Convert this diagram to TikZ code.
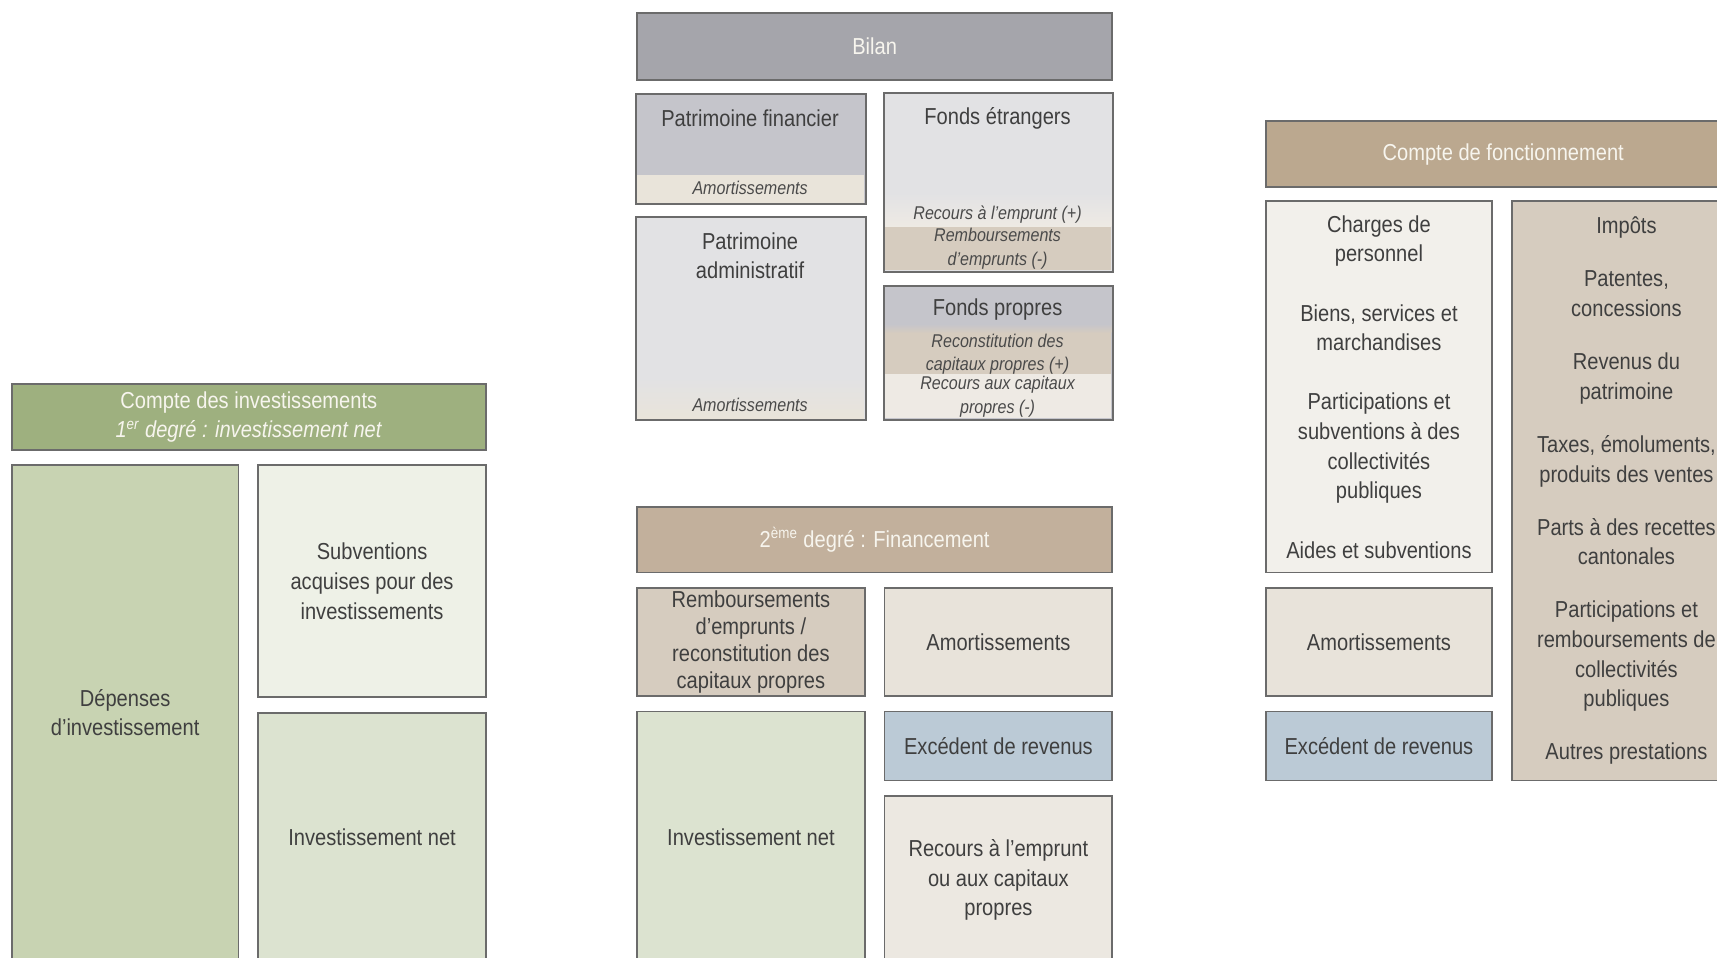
\documentclass[tikz,border=0pt]{standalone}
\usepackage{fontspec}
\setmainfont{Liberation Sans}[FakeStretch=0.87]
\usepackage{xcolor}
\usepackage{tikz}

\definecolor{framegrey}{HTML}{6B6B6B}
\definecolor{textgrey}{HTML}{3F3F3F}
\definecolor{notegrey}{HTML}{4A4A4A}
\definecolor{titletext}{HTML}{F7F5EE}
\definecolor{greenbar}{HTML}{9EB07F}
\definecolor{greendeep}{HTML}{C8D3B2}
\definecolor{greenpale}{HTML}{EEF1E7}
\definecolor{greensoft}{HTML}{DCE3D0}
\definecolor{greybar}{HTML}{A5A5AB}
\definecolor{greymid}{HTML}{C5C5CB}
\definecolor{greylight}{HTML}{E2E2E4}
\definecolor{tanbar}{HTML}{C2B09C}
\definecolor{tanbardark}{HTML}{BBA88F}
\definecolor{tanmid}{HTML}{D6CCBF}
\definecolor{tanlight}{HTML}{E8E3DA}
\definecolor{tanpale}{HTML}{ECE8E1}
\definecolor{creme}{HTML}{F2F0EB}
\definecolor{bluegrey}{HTML}{BBCAD6}
\definecolor{stripbeige}{HTML}{E9E4DA}
\definecolor{palebeige}{HTML}{EEEAE4}

\newcommand{\cellfont}{\fontsize{12}{15.4}\selectfont}
\newcommand{\stripfont}{\fontsize{9.6}{12.2}\selectfont\itshape}

\begin{document}
\begin{tikzpicture}[
    x=0.02cm, y=-0.02cm,
    cell/.style={draw=framegrey, line width=0.9pt, inner sep=0pt, anchor=north west, align=center, text=textgrey, font=\cellfont},
    titlebar/.style={cell, text=titletext},
    frame/.style={draw=framegrey, line width=0.9pt},
    boxtext/.style={inner sep=0pt, align=center, text=textgrey, font=\cellfont},
    striptext/.style={inner sep=0pt, align=center, text=notegrey, font=\stripfont}
]
\useasboundingbox (0,0) rectangle (1568,874);
\clip (0,0) rectangle (1568,874);

% Compte des investissements (left)
\node[titlebar, fill=greenbar, minimum width=8.66cm, minimum height=1.2cm] (invbar) at (10,350)
    {Compte des investissements\\ \textit{1\textsuperscript{er} degré : investissement net}};
\node[cell, fill=greendeep, minimum width=4.14cm, minimum height=9.04cm] (depenses) at (10,424) {Dépenses\\d’investissement};
\node[cell, fill=greenpale, minimum width=4.16cm, minimum height=4.24cm] (subv) at (235,424) {Subventions\\acquises pour des\\investissements};
\node[cell, fill=greensoft, minimum width=4.16cm, minimum height=4.56cm] (invnetA) at (235,650) {Investissement net};

% Bilan (middle, top)
\node[titlebar, fill=greybar, minimum width=8.68cm, minimum height=1.22cm] (bilan) at (581,11) {Bilan};

\node[cell, draw=none, fill=greymid, minimum width=4.16cm, minimum height=1.98cm] (pfin) at (581,86) {};
\fill[stripbeige] (581,160) rectangle (789,185);
\draw[frame] (pfin.north west) rectangle (pfin.south east);
\node[boxtext] (pfintitle) at (685,108) {Patrimoine financier};
\node[striptext] (pfinamort) at (685,172) {Amortissements};

\node[cell, draw=none, fill=greylight, minimum width=4.16cm, minimum height=3.68cm] (padm) at (581,198) {};
\shade[top color=greylight, bottom color=stripbeige] (581,345) rectangle (789,382);
\draw[frame] (padm.north west) rectangle (padm.south east);
\node[boxtext] (padmtitle) at (685,233.5) {Patrimoine\\administratif};
\node[striptext] (padmamort) at (685,370) {Amortissements};

\node[cell, draw=none, fill=greylight, minimum width=4.16cm, minimum height=3.24cm] (fetr) at (807,85) {};
\shade[top color=greylight, bottom color=palebeige] (807,176) rectangle (1015,207);
\fill[tanmid] (807,207) rectangle (1015,247);
\draw[frame] (fetr.north west) rectangle (fetr.south east);
\node[boxtext] (fetrtitle) at (911,108) {Fonds étrangers};
\node[striptext] (fetrplus) at (911,196) {Recours à l’emprunt (+)};
\node[striptext] (fetrminus) at (911,227) {Remboursements\\d’emprunts (-)};

\node[cell, draw=none, fill=greymid, minimum width=4.16cm, minimum height=2.42cm] (fprop) at (807,261) {};
\shade[top color=greymid, bottom color=tanmid] (807,296) rectangle (1015,304);
\fill[tanmid] (807,304) rectangle (1015,342);
\fill[palebeige] (807,342) rectangle (1015,382);
\draw[frame] (fprop.north west) rectangle (fprop.south east);
\node[boxtext] (fproptitle) at (911,283) {Fonds propres};
\node[striptext] (fpropplus) at (911,323.5) {Reconstitution des\\capitaux propres (+)};
\node[striptext] (fpropminus) at (911,362.5) {Recours aux capitaux\\propres (-)};

% 2eme degre : financement (middle, bottom)
\node[titlebar, fill=tanbar, minimum width=8.68cm, minimum height=1.2cm] (degre) at (581,462) {2\textsuperscript{ème} degré : Financement};
\node[cell, fill=tanmid, minimum width=4.16cm, minimum height=1.98cm, font=\fontsize{12}{14}\selectfont] (rembt) at (581,536)
    {Remboursements\\d’emprunts /\\reconstitution des\\capitaux propres};
\node[cell, fill=tanlight, minimum width=4.16cm, minimum height=1.98cm] (amortB) at (807,536) {Amortissements};
\node[cell, fill=greensoft, minimum width=4.16cm, minimum height=4.6cm] (invnetB) at (581,649) {Investissement net};
\node[cell, fill=bluegrey, minimum width=4.16cm, minimum height=1.26cm] (excedB) at (807,649) {Excédent de revenus};
\node[cell, fill=tanpale, minimum width=4.16cm, minimum height=3.08cm] (recours) at (807,726) {Recours à l’emprunt\\ou aux capitaux\\propres};

% Compte de fonctionnement (right)
\node[titlebar, fill=tanbardark, minimum width=8.68cm, minimum height=1.2cm] (fonct) at (1155,110) {Compte de fonctionnement};
\node[cell, fill=creme, minimum width=4.14cm, minimum height=6.78cm] (charges) at (1155,183)
    {Charges de\\personnel\\[15.4pt]Biens, services et\\marchandises\\[15.4pt]Participations et\\subventions à des\\collectivités\\publiques\\[15.4pt]Aides et subventions};
\node[cell, fill=tanlight, minimum width=4.14cm, minimum height=1.98cm] (amortC) at (1155,536) {Amortissements};
\node[cell, fill=bluegrey, minimum width=4.14cm, minimum height=1.26cm] (excedC) at (1155,649) {Excédent de revenus};
\node[cell, fill=tanmid, minimum width=4.18cm, minimum height=10.58cm] (impots) at (1380,183)
    {Impôts\\[12.2pt]Patentes,\\concessions\\[12.2pt]Revenus du\\patrimoine\\[12.2pt]Taxes, émoluments,\\produits des ventes\\[12.2pt]Parts à des recettes\\cantonales\\[12.2pt]Participations et\\remboursements de\\collectivités\\publiques\\[12.2pt]Autres prestations};

\end{tikzpicture}
\end{document}
